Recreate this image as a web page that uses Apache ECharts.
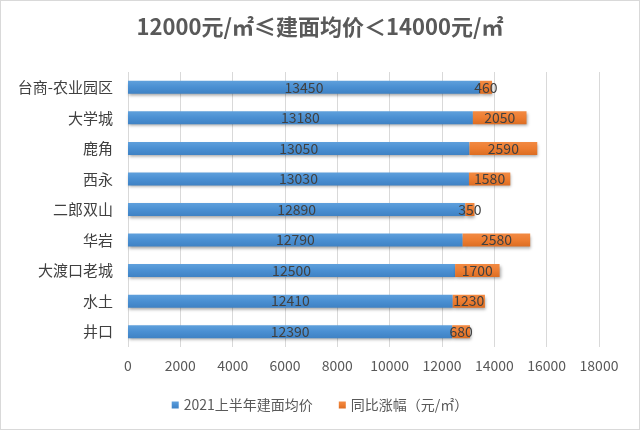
<!DOCTYPE html>
<html>
<head>
<meta charset="utf-8">
<script src="https://cdn.jsdelivr.net/npm/echarts@6/dist/echarts.min.js"></script>
<style>
html,body{margin:0;padding:0;background:#fff;}
#c{width:638px;height:428px;border:1px solid #d9d9d9;}
</style>
</head>
<body>
<div id="c"></div>
<script>
var categories = ['台商-农业园区','大学城','鹿角','西永','二郎双山','华岩','大渡口老城','水土','井口'];
var avgPrice = [13450,13180,13050,13030,12890,12790,12500,12410,12390];
var yoyRise = [460,2050,2590,1580,350,2580,1700,1230,680];
var seriesNames = ['2021上半年建面均价','同比涨幅（元/㎡）'];
var titleText = '12000元/㎡≤建面均价＜14000元/㎡';

var font = '"Noto Sans CJK SC","Noto Sans",sans-serif';
var chart = echarts.init(document.getElementById('c'));
var shadow = {shadowColor:'rgba(0,0,0,0.35)', shadowBlur:3, shadowOffsetX:1, shadowOffsetY:2};
chart.setOption({
  animation:false,
  textStyle:{fontFamily:font},
  title:{text:titleText, left:'center', top:10,
    textStyle:{fontFamily:font, fontSize:22, fontWeight:'bold', color:'#595959'}},
  legend:{bottom:12, left:'center', itemWidth:7, itemHeight:7, itemGap:26,
    icon:'rect', textStyle:{fontFamily:font, fontSize:14, color:'#595959'}},
  grid:{left:127, right:40, top:71, bottom:82},
  xAxis:{type:'value', min:0, max:18000, interval:2000,
    axisLine:{show:false}, axisTick:{show:false},
    splitLine:{lineStyle:{color:'#d9d9d9'}},
    axisLabel:{fontFamily:font, fontSize:14, color:'#595959', margin:12,
      formatter:function(v){return String(v);}}},
  yAxis:{type:'category', data:categories, inverse:true,
    axisLine:{show:false}, axisTick:{show:false},
    axisLabel:{fontFamily:font, fontSize:15, color:'#404040', margin:15}},
  series:[
    {name:seriesNames[0], type:'bar', stack:'t', data:avgPrice, barWidth:13,
     itemStyle:Object.assign({color:new echarts.graphic.LinearGradient(0,0,0,1,[{offset:0,color:'#5fa0dc'},{offset:0.5,color:'#4a8fd2'},{offset:1,color:'#3f82c4'}])}, shadow),
     label:{show:true, position:'inside', color:'#404040', fontFamily:font, fontSize:14}},
    {name:seriesNames[1], type:'bar', stack:'t', data:yoyRise, barWidth:13,
     itemStyle:Object.assign({color:new echarts.graphic.LinearGradient(0,0,0,1,[{offset:0,color:'#f28a43'},{offset:0.5,color:'#ed7d31'},{offset:1,color:'#dc6d22'}])}, shadow),
     label:{show:true, position:'inside', color:'#404040', fontFamily:font, fontSize:14}}
  ]
});
</script>
</body>
</html>
